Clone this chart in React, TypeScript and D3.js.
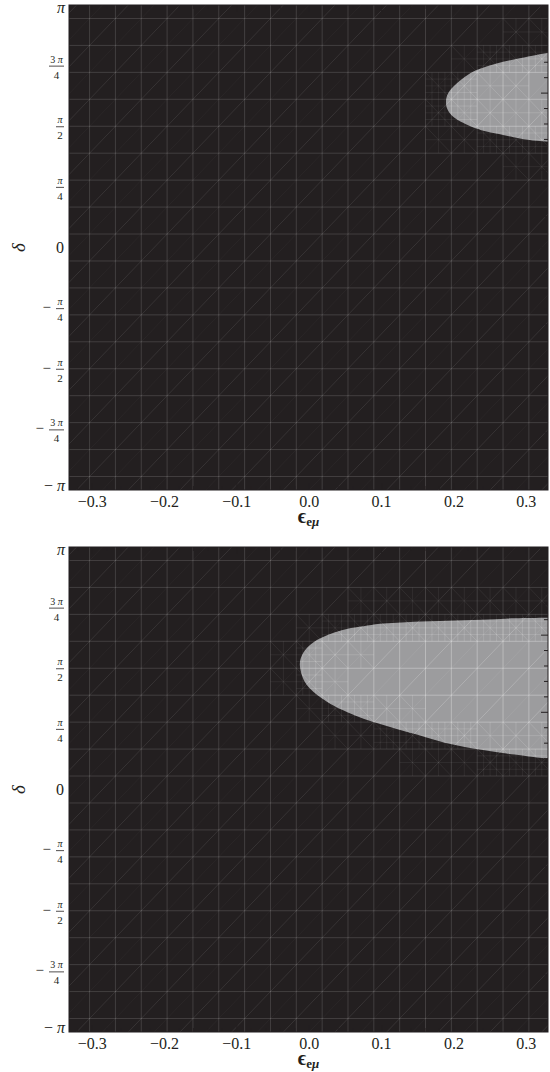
import * as d3 from "d3";
import React from "react";

// axis ticks
const xTicks = [-0.3, -0.2, -0.1, 0.0, 0.1, 0.2, 0.3];
const xTickLabels = ["−0.3", "−0.2", "−0.1", "0.0", "0.1", "0.2", "0.3"];
const yTickQuarters = [4, 3, 2, 1, 0, -1, -2, -3, -4]; // in units of π/4
const yTickLabels = ["π", "3 π/4", "π/2", "π/4", "0", "−π/4", "−π/2", "−3 π/4", "−π"];

// allowed region boundary, upper branch -> tip -> lower branch (ε_eμ, δ/π)
const topEps = [0.335, 0.330, 0.314, 0.291, 0.268, 0.245, 0.222, 0.199, 0.191, 0.189, 0.191, 0.199, 0.222, 0.245, 0.268, 0.291, 0.314, 0.330, 0.335];
const topDelta = [0.804, 0.802, 0.794, 0.780, 0.766, 0.746, 0.718, 0.663, 0.630, 0.601, 0.570, 0.539, 0.501, 0.478, 0.464, 0.450, 0.440, 0.436, 0.434];

const bottomEps = [0.335, 0.326, 0.284, 0.238, 0.192, 0.146, 0.098, 0.075, 0.052, 0.029, 0.006, -0.008, -0.013, -0.006, 0.006, 0.029, 0.052, 0.075, 0.098, 0.121, 0.146, 0.192, 0.238, 0.284, 0.326, 0.335];
const bottomDelta = [0.709, 0.708, 0.706, 0.700, 0.696, 0.692, 0.683, 0.673, 0.662, 0.641, 0.607, 0.565, 0.518, 0.443, 0.402, 0.354, 0.320, 0.292, 0.270, 0.250, 0.229, 0.190, 0.164, 0.144, 0.128, 0.125];

const xDomain = [-0.332, 0.33];
const meshStepX = 1 / 28;
const meshStepY = Math.PI / 9;

const PL = 69;
const PR = 548;
const PH = 485;
const BG = "#231f20";
const REGION = "#9c9c9e";
const FONT = "Liberation Serif, Times New Roman, serif";

function segDist(px: number, py: number, ax: number, ay: number, bx: number, by: number) {
  const dx = bx - ax;
  const dy = by - ay;
  const l2 = dx * dx + dy * dy;
  let t = l2 ? ((px - ax) * dx + (py - ay) * dy) / l2 : 0;
  t = Math.max(0, Math.min(1, t));
  return Math.hypot(px - (ax + t * dx), py - (ay + t * dy));
}

function YLabel({ label, ty, q }: { label: string; ty: number; q: number }) {
  const right = 64;
  if (label === "0") {
    return (
      <text x={right} y={ty + 5} textAnchor="end" fontSize={16}>0</text>
    );
  }
  const neg = label.startsWith("−");
  const body = neg ? label.slice(1) : label;
  if (!body.includes("/")) {
    // edge labels sit just inside the frame
    const base = q > 0 ? ty + 8 : ty + 1;
    return (
      <text x={right + 1} y={base} textAnchor="end" fontSize={16}>
        {neg ? "− " : ""}
        <tspan fontStyle="italic">π</tspan>
      </text>
    );
  }
  const [num, den] = body.split("/");
  const bw = num.length > 1 ? 15 : 8;
  const cx = right - bw / 2;
  const parts = num.split(" ");
  return (
    <g>
      {neg && (
        <text x={right - bw - 5} y={ty + 4} textAnchor="end" fontSize={15}>−</text>
      )}
      <text x={cx} y={ty - 3} textAnchor="middle" fontSize={10}>
        {parts.length > 1 ? `${parts[0]} ` : ""}
        <tspan fontStyle="italic">{parts[parts.length - 1]}</tspan>
      </text>
      <line x1={right - bw} x2={right} y1={ty + 0.5} y2={ty + 0.5} stroke={BG} strokeWidth={0.8} />
      <text x={cx} y={ty + 13} textAnchor="middle" fontSize={11}>{den}</text>
    </g>
  );
}

function Panel({ y0, eps, delta, id }: { y0: number; eps: number[]; delta: number[]; id: string }) {
  const x = d3.scaleLinear().domain(xDomain).range([PL, PR]);
  const y = d3.scaleLinear().domain([-Math.PI, Math.PI]).range([y0 + PH, y0]);
  const xg = (i: number) => x(((2 * i + 1) * meshStepX) / 2);
  const yg = (j: number) => y(((2 * j + 1) * meshStepY) / 2);

  const pts: [number, number][] = eps.map((e, k) => [e, delta[k] * Math.PI]);
  const line = d3
    .line<[number, number]>()
    .x((d) => x(d[0]))
    .y((d) => y(d[1]))
    .curve(d3.curveCatmullRom);
  const first = pts[0];
  const last = pts[pts.length - 1];
  const regionPath = `${line(pts)}L${x(0.4)},${y(last[1])}L${x(0.4)},${y(first[1])}Z`;
  const poly = pts.map((p) => [x(p[0]), y(p[1])]);

  // triangulation mesh
  const I = d3.range(-11, 11);
  const J = d3.range(-10, 10);
  let grid = "";
  I.forEach((i) => (grid += `M${xg(i)},${y0}V${y0 + PH}`));
  J.forEach((j) => (grid += `M${PL},${yg(j)}H${PR}`));
  let diagA = "";
  let diagB = "";
  d3.range(-30, 31).forEach((c) => {
    const s = `M${xg(c - 14)},${yg(-14)}L${xg(c + 14)},${yg(14)}`;
    if (c % 2 === 0) diagA += s;
    else diagB += s;
  });
  let fine = "";
  I.forEach((i) => {
    J.forEach((j) => {
      const X1 = xg(i), X2 = xg(i + 1), Y1 = yg(j), Y2 = yg(j + 1);
      const cx = (X1 + X2) / 2, cy = (Y1 + Y2) / 2;
      let d = Infinity;
      for (let k = 0; k < poly.length - 1; k++) {
        d = Math.min(d, segDist(cx, cy, poly[k][0], poly[k][1], poly[k + 1][0], poly[k + 1][1]));
      }
      if (d < 30) {
        fine += `M${cx},${Y1}V${Y2}M${X1},${cy}H${X2}M${X1},${Y2}L${X2},${Y1}`;
      }
      if (d < 14) {
        const qx1 = (X1 + cx) / 2, qx2 = (cx + X2) / 2, qy1 = (Y1 + cy) / 2, qy2 = (cy + Y2) / 2;
        fine += `M${qx1},${Y1}V${Y2}M${qx2},${Y1}V${Y2}M${X1},${qy1}H${X2}M${X1},${qy2}H${X2}`;
      }
    });
  });

  const radMinor = d3.range(-15, 16).map((k) => k * 0.2);
  const xMinor = d3.range(-16, 17).map((k) => k * 0.02);

  const mesh = (o: number) => (
    <g fill="none" stroke="#ffffff">
      <path d={grid} strokeOpacity={o} strokeWidth={1} />
      <path d={diagA} strokeOpacity={o * 0.85} strokeWidth={0.8} />
      <path d={diagB} strokeOpacity={o * 0.3} strokeWidth={0.8} />
      <path d={fine} strokeOpacity={o * 0.6} strokeWidth={0.8} />
    </g>
  );

  return (
    <g>
      <defs>
        <clipPath id={`plot-${id}`}>
          <rect x={PL} y={y0} width={PR - PL} height={PH} />
        </clipPath>
        <clipPath id={`region-${id}`}>
          <path d={regionPath} />
        </clipPath>
      </defs>
      <g clipPath={`url(#plot-${id})`}>
        <rect x={PL} y={y0} width={PR - PL} height={PH} fill={BG} />
        {mesh(0.14)}
        <path d={regionPath} fill={REGION} />
        <g clipPath={`url(#region-${id})`}>{mesh(0.3)}</g>
      </g>
      {/* frame ticks: right side in radians, bottom/top in ε units */}
      <g stroke={BG} strokeWidth={1}>
        {radMinor.map((v) => {
          const major = Math.abs(v - Math.round(v)) < 1e-6;
          return <line key={`r${v}`} x1={PR - (major ? 7 : 4)} x2={PR} y1={y(v)} y2={y(v)} />;
        })}
        {xMinor.map((v) => {
          const major = Math.abs(v * 10 - Math.round(v * 10)) < 1e-6;
          const len = major ? 7 : 4;
          return (
            <g key={`t${v}`}>
              <line x1={x(v)} x2={x(v)} y1={y0} y2={y0 + len} />
              <line x1={x(v)} x2={x(v)} y1={y0 + PH} y2={y0 + PH - len} />
            </g>
          );
        })}
      </g>
      <rect x={PL} y={y0} width={PR - PL} height={PH} fill="none" stroke={BG} strokeWidth={1} />
      <g fontFamily={FONT} fill={BG}>
        {yTickQuarters.map((q, k) => (
          <YLabel key={q} q={q} label={yTickLabels[k]} ty={y((q * Math.PI) / 4)} />
        ))}
        {xTicks.map((v, k) => (
          <text key={v} x={x(v)} y={y0 + PH + 17} textAnchor="middle" fontSize={16}>
            {xTickLabels[k]}
          </text>
        ))}
        <text
          transform={`translate(25,${y(0)}) rotate(-90)`}
          textAnchor="middle"
          fontSize={19}
          fontStyle="italic"
        >
          δ
        </text>
        <text x={(PL + PR) / 2} y={y0 + PH + 33} textAnchor="middle" fontWeight="bold" fontSize={20}>
          ϵ
          <tspan fontSize={13} dy={3}>e</tspan>
          <tspan fontSize={13} fontStyle="italic">μ</tspan>
        </text>
      </g>
    </g>
  );
}

export default function App() {
  return (
    <svg
      width={550}
      height={1072}
      style={{ position: "absolute", left: 0, top: 0, display: "block", background: "#fff" }}
    >
      <Panel y0={5} eps={topEps} delta={topDelta} id="a" />
      <Panel y0={547} eps={bottomEps} delta={bottomDelta} id="b" />
    </svg>
  );
}
